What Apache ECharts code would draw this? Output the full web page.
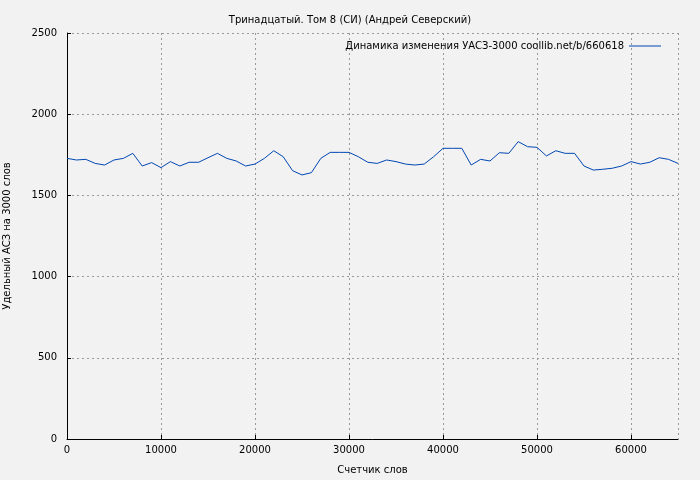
<!DOCTYPE html>
<html><head><meta charset="utf-8">
<script src="https://cdn.jsdelivr.net/npm/echarts@6/dist/echarts.min.js"></script>
<style>html,body{margin:0;background:#f2f2f2}#c{width:700px;height:480px}</style>
</head><body><div id="c"></div>
<script>
// words counter, step 1000
let words = [];
for (let i = 0; i <= 65; i++) words.push(i * 1000);
let values = [1728,1718,1722,1697,1687,1718,1728,1759,1681,1702,
  1671,1708,1681,1704,1704,1732,1759,1728,1712,1681,
  1693,1728,1775,1738,1652,1626,1640,1728,1765,1765,
  1765,1738,1704,1697,1718,1708,1693,1687,1693,1738,
  1790,1790,1790,1687,1722,1712,1763,1759,1831,1800,
  1796,1743,1775,1759,1759,1681,1656,1661,1667,1681,
  1708,1693,1704,1732,1722,1697];

let seriesName = 'Динамика изменения УАСЗ-3000 coollib.net/b/660618';
let font = 'DejaVu Sans';

let option = {
  backgroundColor: '#f2f2f2',
  animation: false,
  title: {
    text: 'Тринадцатый. Том 8 (СИ) (Андрей Северский)',
    left: 'center', top: 10,
    textStyle: {fontSize: 10, fontWeight: 'normal', color: '#000', fontFamily: font}
  },
  legend: {
    right: 34, top: 36, itemWidth: 32, itemHeight: 1, itemGap: 6,
    icon: 'rect', align: 'right',
    textStyle: {fontSize: 10, color: '#000', fontFamily: font},
    data: [seriesName]
  },
  grid: {left: 67, right: 22, top: 33, bottom: 41, outerBoundsMode: 'none', containLabel: false},
  xAxis: {
    type: 'value', min: 0, max: 65000, interval: 10000,
    name: 'Счетчик слов', nameLocation: 'middle', nameGap: 26,
    nameTextStyle: {fontSize: 10, color: '#000', fontFamily: font},
    axisLine: {lineStyle: {color: '#000'}},
    axisTick: {inside: true, length: 4, lineStyle: {color: '#000'}},
    axisLabel: {fontSize: 10, color: '#000', fontFamily: font, margin: 6, showMaxLabel: false,
      formatter: v => String(v)},
    splitLine: {lineStyle: {type: [2, 3], color: '#999'}}
  },
  yAxis: {
    type: 'value', min: 0, max: 2500, interval: 500,
    name: 'Удельный АСЗ на 3000 слов', nameLocation: 'middle', nameGap: 55,
    nameTextStyle: {fontSize: 10, color: '#000', fontFamily: font},
    axisLine: {show: true, lineStyle: {color: '#000'}},
    axisTick: {inside: true, length: 4, lineStyle: {color: '#000'}},
    axisLabel: {fontSize: 10, color: '#000', fontFamily: font, margin: 10,
      formatter: v => String(v)},
    splitLine: {lineStyle: {type: [2, 3], color: '#999'}}
  },
  series: [{
    name: seriesName,
    type: 'line',
    data: words.map((w, i) => [w, values[i]]),
    showSymbol: false,
    lineStyle: {width: 1, color: '#0047b3'},
    itemStyle: {color: '#0047b3'}
  }]
};
echarts.init(document.getElementById('c')).setOption(option);
</script></body></html>
